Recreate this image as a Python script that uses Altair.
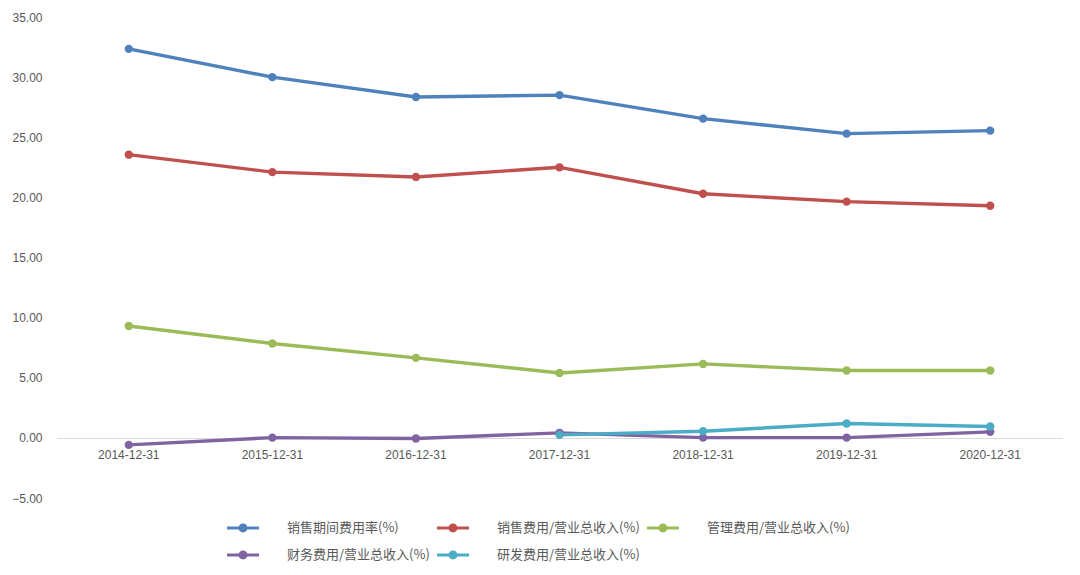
import altair as alt
import pandas as pd

dates = ["2014-12-31", "2015-12-31", "2016-12-31", "2017-12-31",
         "2018-12-31", "2019-12-31", "2020-12-31"]

series_names = ["销售期间费用率(%)", "销售费用/营业总收入(%)", "管理费用/营业总收入(%)",
                "财务费用/营业总收入(%)", "研发费用/营业总收入(%)"]

period_rate = [32.35, 30.0, 28.35, 28.5, 26.55, 25.3, 25.55]
sales_ratio = [23.55, 22.1, 21.7, 22.5, 20.3, 19.65, 19.3]
admin_ratio = [9.3, 7.85, 6.65, 5.4, 6.15, 5.6, 5.6]
finance_ratio = [-0.58, 0.02, -0.05, 0.42, 0.02, 0.02, 0.5]
rd_ratio = [None, None, None, 0.25, 0.55, 1.2, 0.95]

colors = ["#4F81BD", "#C0504D", "#9BBB59", "#8064A2", "#4BACC6"]

all_values = [period_rate, sales_ratio, admin_ratio, finance_ratio, rd_ratio]
rows = []
for si, (name, vals) in enumerate(zip(series_names, all_values)):
    for d, v in zip(dates, vals):
        if v is not None:
            rows.append({"date": d, "series": name, "value": v, "order": si})
df = pd.DataFrame(rows)

legend_shape = ("M-1,-0.1L1,-0.1L1,0.1L-1,0.1Z "
                "M0.28,0A0.28,0.28 0 1,1 -0.28,0A0.28,0.28 0 1,1 0.28,0Z")

x_enc = alt.X("date:N", sort=dates,
              scale=alt.Scale(paddingInner=0, paddingOuter=0, type="band"),
              axis=alt.Axis(title=None, labelAngle=0, ticks=False, domain=True,
                            domainColor="#D9D9D9", domainWidth=1, offset=-60,
                            labelPadding=11, labelFontSize=12, labelColor="#595959",
                            labelFont="Liberation Sans", grid=False))
y_enc = alt.Y("value:Q",
              scale=alt.Scale(domain=[-5, 35], nice=False, zero=False),
              axis=alt.Axis(title=None, values=list(range(-5, 36, 5)), format=".2f",
                            ticks=False, domain=False, grid=False, labelPadding=15,
                            labelFontSize=12, labelColor="#595959",
                            labelFont="Liberation Sans"))
color_enc = alt.Color("series:N", sort=series_names,
                      scale=alt.Scale(domain=series_names, range=colors),
                      legend=alt.Legend(title=None, orient="none", legendX=170,
                                        legendY=495, columns=3, columnPadding=7,
                                        gridAlign="all",
                                        rowPadding=4, symbolType=legend_shape,
                                        symbolSize=1024, symbolStrokeWidth=0,
                                        symbolOpacity=1, labelOffset=28,
                                        labelFontSize=13, labelColor="#595959",
                                        labelFont="Noto Sans CJK SC",
                                        labelLimit=400, direction="horizontal"))

base = alt.Chart(df).encode(x=x_enc, y=y_enc, color=color_enc,
                            order=alt.Order("order:Q"))

lines = base.mark_line(strokeWidth=3.4, strokeCap="round", strokeJoin="round")
points = base.mark_point(filled=True, size=70, opacity=1)

chart = alt.layer(lines, points).properties(
    width=1005, height=481,
    background="white",
    autosize=alt.AutoSizeParams(type="none"),
    padding={"left": 49, "top": 9, "right": 10, "bottom": 69},
).configure_view(strokeWidth=0, stroke="transparent")

chart.save("out.html", embed_options={"renderer": "svg", "actions": False})
